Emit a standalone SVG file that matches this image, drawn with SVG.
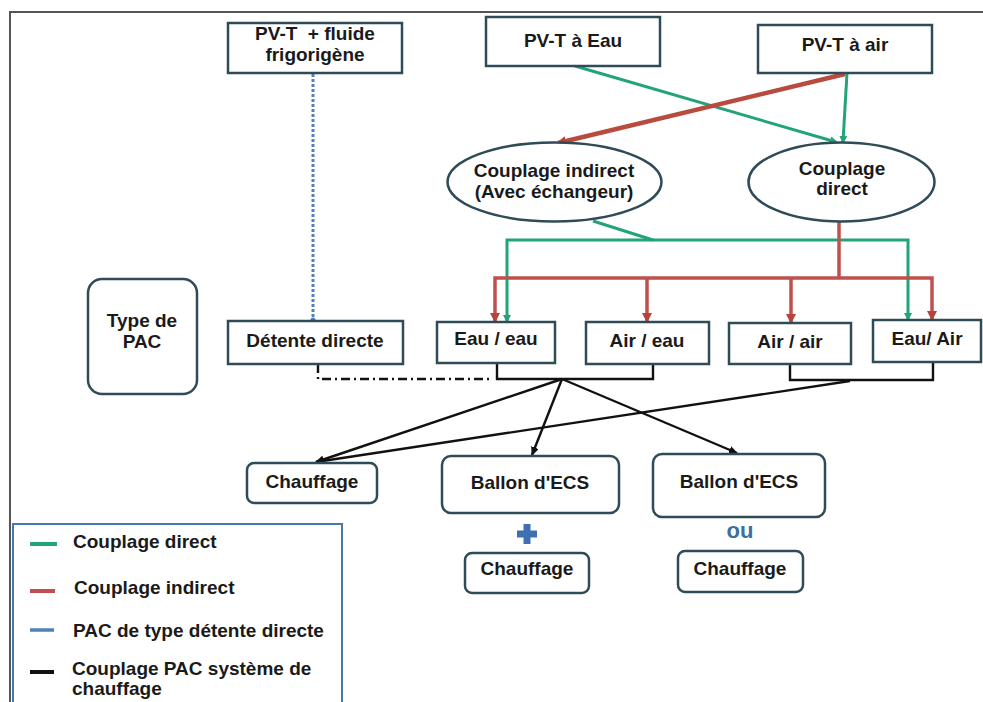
<svg xmlns="http://www.w3.org/2000/svg" width="983" height="702" viewBox="0 0 983 702">
<defs>
<style>
text{font-family:"Liberation Sans",Arial,sans-serif;font-weight:bold;font-size:19px;fill:#1a1a1a;text-anchor:middle}
.box{fill:#fff;stroke:#2e4b57;stroke-width:2.5}
.g{fill:none;stroke:#22a37a;stroke-width:3}
.r{fill:none;stroke:#c0504d;stroke-width:3.5}
.k{fill:none;stroke:#111;stroke-width:2.4}
.lg{text-anchor:start}
</style>
<marker id="ag" markerWidth="8" markerHeight="8" refX="6" refY="4" orient="auto" markerUnits="userSpaceOnUse"><path d="M0,0 L8,4 L0,8 z" fill="#22a37a"/></marker>
<marker id="ar" markerWidth="10" markerHeight="10" refX="8" refY="5" orient="auto" markerUnits="userSpaceOnUse"><path d="M0,0 L10,5 L0,10 z" fill="#b5443a"/></marker>
<marker id="ak" markerWidth="9" markerHeight="8" refX="8" refY="4" orient="auto" markerUnits="userSpaceOnUse"><path d="M0,0 L9,4 L0,8 z" fill="#111"/></marker>
<marker id="ab" markerWidth="6" markerHeight="6" refX="3" refY="3" orient="auto" markerUnits="userSpaceOnUse"><circle cx="3" cy="3" r="2.5" fill="#4f81bd"/></marker>
</defs>
<rect width="983" height="702" fill="#fff"/>
<path d="M10,702 V12 H983" fill="none" stroke="#555" stroke-width="2"/>

<g id="connectors">
<line x1="575" y1="66" x2="836" y2="142" class="g" marker-end="url(#ag)"/>
<line x1="847" y1="73" x2="843" y2="142" class="g" marker-end="url(#ag)"/>
<line x1="845" y1="74" x2="558" y2="143" stroke="#b84a3e" stroke-width="4.5" marker-end="url(#ar)"/>
<line x1="313" y1="74" x2="313" y2="320" stroke="#4f81bd" stroke-width="3" stroke-dasharray="3 2" marker-end="url(#ab)"/>
<line x1="593" y1="221" x2="653" y2="240" class="g"/>
<path d="M653,240 H507 V321" class="g" marker-end="url(#ag)"/>
<path d="M653,240 H908 V319" class="g" marker-end="url(#ag)"/>
<path d="M839,222 V278" class="r"/>
<path d="M839,278 H495 V321" class="r" marker-end="url(#ar)"/>
<path d="M839,278 H932 V319" class="r" marker-end="url(#ar)"/>
<path d="M647,278 V321" class="r" marker-end="url(#ar)"/>
<path d="M791,278 V322" class="r" marker-end="url(#ar)"/>
<path d="M318,364 V379 H493" class="k" stroke-dasharray="9 4 2 4"/>
<path d="M497,363 V379 H653 V364" class="k"/>
<path d="M790,364 V380 H933 V362" class="k"/>
<line x1="562" y1="379" x2="316" y2="462" class="k" marker-end="url(#ak)"/>
<line x1="562" y1="379" x2="532" y2="455" class="k" marker-end="url(#ak)"/>
<line x1="562" y1="379" x2="737" y2="453" class="k" marker-end="url(#ak)"/>
<line x1="850" y1="381" x2="316" y2="462" class="k" marker-end="url(#ak)"/>
</g>

<g id="n-fluide"><rect class="box" x="228" y="23" width="174" height="50"/><text x="315" y="40">PV-T&#160; + fluide</text><text x="315" y="61">frigorigène</text></g>
<g id="n-eau"><rect class="box" x="486" y="17" width="174" height="49"/><text x="573" y="47">PV-T à Eau</text></g>
<g id="n-air"><rect class="box" x="758" y="25" width="174" height="48"/><text x="845" y="51">PV-T à air</text></g>
<g id="n-indirect"><ellipse class="box" cx="554.5" cy="182" rx="107" ry="39.5"/><text x="554" y="177">Couplage indirect</text><text x="554" y="198">(Avec échangeur)</text></g>
<g id="n-direct"><ellipse class="box" cx="841.5" cy="182" rx="93" ry="39.5"/><text x="842" y="175">Couplage</text><text x="842" y="195">direct</text></g>
<g id="n-type"><rect class="box" x="88" y="279" width="109" height="115" rx="14"/><text x="142" y="327">Type de</text><text x="142" y="348">PAC</text></g>
<g id="n-detente"><rect class="box" x="228" y="321" width="175" height="43"/><text x="315" y="347">Détente directe</text></g>
<g id="n-eaueau"><rect class="box" x="437" y="322" width="118" height="41"/><text x="496" y="345">Eau / eau</text></g>
<g id="n-aireau"><rect class="box" x="586" y="322" width="123" height="42"/><text x="647" y="347">Air / eau</text></g>
<g id="n-airair"><rect class="box" x="729" y="323" width="122" height="41"/><text x="790" y="348">Air / air</text></g>
<g id="n-eauair"><rect class="box" x="873" y="320" width="108" height="42"/><text x="927" y="345">Eau/ Air</text></g>
<g id="n-chauffage1"><rect class="box" x="247" y="463" width="130" height="40" rx="7"/><text x="312" y="488">Chauffage</text></g>
<g id="n-ballon1"><rect class="box" x="442" y="456" width="177" height="57" rx="9"/><text x="530" y="489">Ballon d'ECS</text></g>
<g id="n-ballon2"><rect class="box" x="653" y="454" width="172" height="63" rx="9"/><text x="739" y="488">Ballon d'ECS</text></g>
<g id="n-plus"><path d="M527,524 V544 M517,534 H537" stroke="#3e6fb0" stroke-width="7"/></g>
<g id="n-ou"><text x="740" y="538" style="font-size:22px;fill:#3b6ea5">ou</text></g>
<g id="n-chauffage2"><rect class="box" x="465" y="553" width="124" height="40" rx="7"/><text x="527" y="575">Chauffage</text></g>
<g id="n-chauffage3"><rect class="box" x="678" y="551" width="125" height="41" rx="7"/><text x="740" y="575">Chauffage</text></g>

<g id="legend">
<rect x="13" y="524" width="329" height="190" fill="#fff" stroke="#4a78a8" stroke-width="2"/>
<line x1="30" y1="544" x2="57" y2="544" stroke="#22a37a" stroke-width="4"/>
<text class="lg" x="73" y="548">Couplage direct</text>
<line x1="30" y1="591" x2="55" y2="591" stroke="#c0504d" stroke-width="4"/>
<text class="lg" x="74" y="594">Couplage indirect</text>
<line x1="30" y1="630" x2="54" y2="630" stroke="#4f81bd" stroke-width="3.5"/>
<text class="lg" x="73" y="637">PAC de type détente directe</text>
<line x1="30" y1="672" x2="54" y2="672" stroke="#111" stroke-width="4"/>
<text class="lg" x="72" y="675">Couplage PAC système de</text>
<text class="lg" x="72" y="695">chauffage</text>
</g>
</svg>
